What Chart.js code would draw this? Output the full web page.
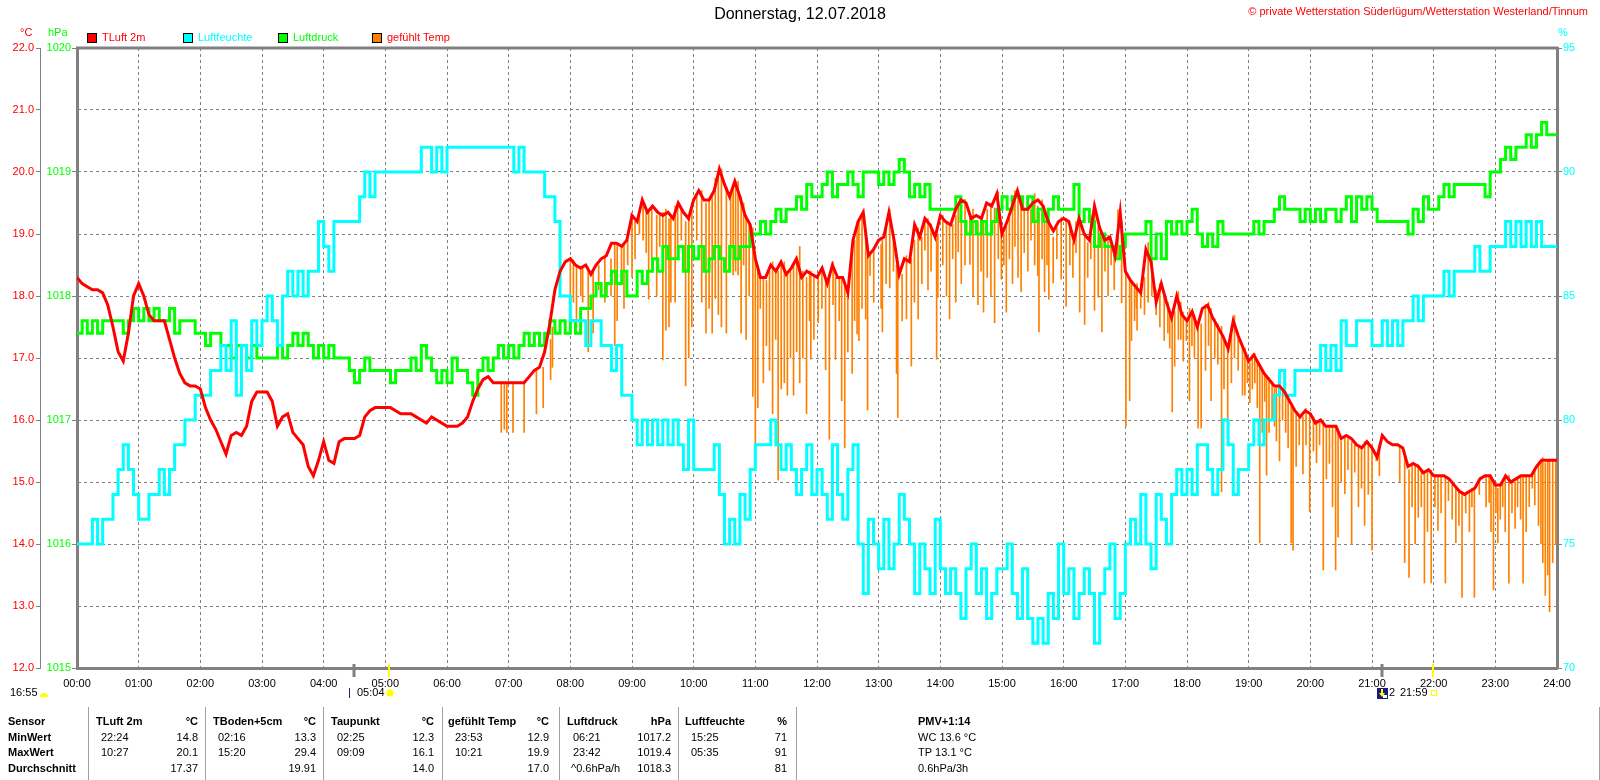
<!DOCTYPE html>
<html>
<head>
<meta charset="utf-8">
<title>Donnerstag, 12.07.2018</title>
<script src="https://cdn.jsdelivr.net/npm/chart.js@4.4.0/dist/chart.umd.min.js"></script>
<style>
  html, body { margin: 0; padding: 0; background: #fff; }
  canvas { display: block; }
</style>
</head>
<body>
<canvas id="chart" width="1600" height="780"></canvas>
<script>
// x axis labels, one per hour
const hourLabels = ["00:00","01:00","02:00","03:00","04:00","05:00","06:00","07:00","08:00","09:00","10:00","11:00","12:00",
  "13:00","14:00","15:00","16:00","17:00","18:00","19:00","20:00","21:00","22:00","23:00","24:00"];

// TLuft, Luftdruck, Luftfeuchte sampled every 5 minutes, one row = one hour, last value = 24:00
const stepMinutes = 5;

// TLuft 2m (°C)
const tLuft = [
  18.3, 18.2, 18.15, 18.1, 18.1, 18.05, 17.85, 17.5, 17.1, 16.95, 17.4, 18.0,
  18.2, 18.0, 17.7, 17.6, 17.6, 17.6, 17.3, 17.0, 16.75, 16.6, 16.55, 16.55,
  16.5, 16.2, 16.0, 15.85, 15.65, 15.45, 15.75, 15.8, 15.75, 15.9, 16.3, 16.45,
  16.45, 16.45, 16.3, 15.9, 16.05, 16.1, 15.8, 15.7, 15.6, 15.25, 15.1, 15.35,
  15.65, 15.35, 15.3, 15.65, 15.7, 15.7, 15.7, 15.75, 16.05, 16.15, 16.2, 16.2,
  16.2, 16.2, 16.15, 16.1, 16.1, 16.1, 16.05, 16.0, 15.95, 16.05, 16.0, 15.95,
  15.9, 15.9, 15.9, 15.95, 16.05, 16.3, 16.5, 16.65, 16.7, 16.6, 16.6, 16.6,
  16.6, 16.6, 16.6, 16.6, 16.7, 16.8, 16.85, 17.1, 17.55, 18.1, 18.4, 18.55,
  18.6, 18.5, 18.45, 18.5, 18.35, 18.5, 18.6, 18.65, 18.85, 18.85, 18.8, 18.9,
  19.3, 19.2, 19.55, 19.35, 19.45, 19.35, 19.3, 19.35, 19.25, 19.5, 19.35, 19.25,
  19.55, 19.7, 19.55, 19.55, 19.7, 20.05, 19.8, 19.6, 19.85, 19.6, 19.3, 19.15,
  18.6, 18.3, 18.3, 18.5, 18.4, 18.55, 18.35, 18.45, 18.6, 18.3, 18.4, 18.35,
  18.3, 18.45, 18.2, 18.5, 18.3, 18.3, 18.05, 18.9, 19.2, 19.35, 18.65, 18.75,
  18.9, 18.95, 19.35, 18.9, 18.35, 18.6, 18.55, 19.15, 18.95, 19.25, 19.15, 18.95,
  19.3, 19.2, 19.15, 19.4, 19.55, 19.5, 19.25, 19.3, 19.25, 19.5, 19.45, 19.65,
  19.0, 19.2, 19.45, 19.7, 19.4, 19.4, 19.5, 19.55, 19.45, 19.2, 19.05, 19.2,
  19.25, 19.2, 18.9, 19.25, 19.0, 18.9, 19.45, 19.1, 18.9, 18.95, 18.65, 19.35,
  18.4, 18.25, 18.15, 18.05, 18.75, 18.55, 17.9, 18.2, 17.9, 17.65, 18.0, 17.7,
  17.6, 17.75, 17.5, 17.8, 17.85, 17.65, 17.5, 17.35, 17.15, 17.6, 17.35, 17.15,
  16.95, 17.05, 16.9, 16.75, 16.65, 16.55, 16.55, 16.45, 16.3, 16.15, 16.05, 16.15,
  16.1, 15.95, 16.0, 15.9, 15.9, 15.9, 15.7, 15.75, 15.7, 15.6, 15.55, 15.65,
  15.55, 15.4, 15.75, 15.65, 15.6, 15.6, 15.55, 15.25, 15.3, 15.25, 15.15, 15.2,
  15.1, 15.1, 15.1, 15.05, 14.95, 14.85, 14.8, 14.85, 14.9, 15.05, 15.1, 15.1,
  14.95, 14.95, 15.1, 15.0, 15.05, 15.1, 15.1, 15.1, 15.25, 15.35, 15.35, 15.35,
  15.35
];

// gefühlt Temp: short drops below the air temperature, as time (h), lowest and highest value (°C)
const gefuehltTime = [
  6.88, 6.93, 6.97, 7.07, 7.25, 7.45, 7.56, 7.68, 7.71,
  8.0, 8.05, 8.1, 8.17, 8.2, 8.29, 8.37, 8.46, 8.56, 8.66, 8.72, 8.76, 8.83, 8.87, 8.93,
  9.0, 9.05, 9.12, 9.18, 9.23, 9.27, 9.32, 9.4, 9.45, 9.5, 9.55, 9.6, 9.63, 9.7, 9.74, 9.8, 9.87, 9.92, 9.97,
  10.05, 10.13, 10.2, 10.25, 10.3, 10.35, 10.4, 10.45, 10.53, 10.6, 10.64, 10.68, 10.72, 10.77, 10.81, 10.85, 10.9, 10.96,
  11.0, 11.04, 11.08, 11.13, 11.18, 11.23, 11.28, 11.33, 11.37, 11.42, 11.47, 11.52, 11.57, 11.62, 11.67, 11.72, 11.77, 11.83, 11.88, 11.9, 11.95,
  12.02, 12.08, 12.14, 12.2, 12.26, 12.3, 12.36, 12.4, 12.45, 12.5, 12.57, 12.61, 12.65, 12.68, 12.73, 12.79, 12.82, 12.86, 12.92,
  13.04, 13.06, 13.12, 13.18, 13.24, 13.29, 13.31, 13.38, 13.45, 13.53, 13.58, 13.64, 13.7, 13.75, 13.8, 13.85, 13.94, 13.96,
  14.04, 14.1, 14.15, 14.2, 14.25, 14.29, 14.34, 14.4, 14.48, 14.53, 14.61, 14.66, 14.7, 14.76, 14.82, 14.88, 14.94, 14.99,
  15.03, 15.07, 15.12, 15.17, 15.21, 15.26, 15.31, 15.36, 15.42, 15.47, 15.53, 15.58, 15.6, 15.65, 15.69, 15.73, 15.76, 15.83, 15.89, 15.96,
  16.04, 16.1, 16.15, 16.2, 16.26, 16.34, 16.39, 16.44, 16.5, 16.56, 16.62, 16.67, 16.72, 16.77, 16.82, 16.88, 16.94,
  17.01, 17.07, 17.1, 17.15, 17.18, 17.19, 17.25, 17.31, 17.37, 17.43, 17.5, 17.56, 17.63, 17.69, 17.72, 17.76, 17.8, 17.86, 17.9, 17.94, 17.99,
  18.04, 18.08, 18.12, 18.18, 18.23, 18.3, 18.35, 18.39, 18.45, 18.5, 18.56, 18.6, 18.66, 18.72, 18.77, 18.83, 18.9, 18.94, 18.98,
  19.02, 19.06, 19.1, 19.14, 19.18, 19.22, 19.26, 19.29, 19.33, 19.38, 19.42, 19.45, 19.5, 19.55, 19.6, 19.64, 19.69, 19.72, 19.77, 19.82, 19.88, 19.93, 19.99,
  20.05, 20.1, 20.15, 20.21, 20.26, 20.31, 20.36, 20.41, 20.45, 20.5, 20.56, 20.61, 20.67, 20.72, 20.78, 20.83, 20.88, 20.94,
  21.0, 21.07, 21.12, 21.45, 21.53, 21.6, 21.65, 21.7, 21.75, 21.8, 21.85, 21.9, 21.96,
  22.02, 22.07, 22.12, 22.19, 22.24, 22.3, 22.36, 22.41, 22.46, 22.52, 22.58, 22.62, 22.66, 22.74, 22.85, 22.9, 22.93, 22.97,
  23.01, 23.04, 23.08, 23.12, 23.16, 23.22, 23.27, 23.32, 23.36, 23.41, 23.45, 23.5, 23.55, 23.6, 23.64, 23.7, 23.74, 23.77, 23.81, 23.85, 23.88, 23.93, 23.98
];
const gefuehltMin = [
  15.8, 15.85, 15.8, 15.8, 15.8, 16.1, 16.2, 16.65, 16.85,
  17.4, 17.9, 17.5, 18.0, 17.9, 17.1, 17.4, 18.1, 17.9, 18.0, 17.2, 17.6, 18.3, 17.8, 18.5,
  18.3, 18.6, 19.0, 18.9, 18.7, 17.95, 18.6, 18.0, 18.8, 16.97, 17.45, 17.5, 17.9, 17.9, 18.6, 18.9, 16.55, 17.0, 17.5,
  18.9, 17.9, 17.4, 17.8, 17.4, 17.96, 17.7, 17.5, 17.4, 18.6, 18.34, 18.4, 18.34, 17.4, 18.5, 17.3, 18.0, 16.38,
  15.3, 16.2, 17.8, 16.6, 17.2, 16.8, 16.1, 17.3, 15.03, 16.5, 16.6, 16.4, 17.0, 16.4, 17.1, 16.6, 17.0, 16.1, 17.6, 16.98, 17.3,
  17.57, 17.8, 16.81, 15.69, 17.86, 16.98, 17.6, 16.31, 15.55, 17.1, 16.75, 17.6, 17.39, 17.28, 17.8, 17.63, 16.16, 18.33, 17.9,
  17.8, 17.42, 18.2, 18.13, 18.4, 16.75, 16.04, 17.6, 17.63, 16.87, 17.9, 17.63, 18.2, 18.74, 18.1, 18.4, 16.98, 17.98,
  18.5, 18.0, 17.63, 18.6, 17.9, 18.71, 18.2, 18.5, 18.51, 18.0, 17.86, 18.4, 17.74, 18.3, 18.0, 17.57, 18.6, 18.27,
  18.5, 17.74, 18.6, 18.2, 18.8, 18.3, 18.07, 18.7, 18.4, 18.9, 18.5, 18.33, 17.42, 18.6, 18.07, 18.5, 17.95, 18.21, 18.6, 18.27,
  17.83, 18.5, 18.3, 18.7, 17.74, 17.54, 18.3, 18.6, 17.77, 17.98, 17.42, 18.4, 18.0, 18.5, 18.1, 18.6, 17.89,
  15.9, 16.31, 17.28, 17.6, 17.8, 17.45, 17.8, 17.7, 17.9, 18.0, 17.7, 17.5, 17.28, 17.4, 17.16, 16.13, 16.87, 17.3, 17.3, 16.95, 17.28,
  16.31, 17.2, 17.01, 15.87, 15.87, 16.8, 17.2, 16.31, 17.0, 16.9, 14.84, 16.5, 16.01, 16.6, 17.0, 16.8, 16.4, 16.4, 16.6,
  16.28, 16.5, 16.6, 16.2, 14.02, 15.8, 16.3, 15.11, 15.8, 16.0, 15.9, 15.66, 15.34, 16.0, 15.8, 15.55, 14.02, 13.9, 15.25, 15.6, 15.13, 15.6, 14.52,
  15.5, 15.31, 15.6, 13.58, 15.05, 15.3, 14.6, 13.58, 14.11, 15.0, 14.81, 15.2, 13.99, 15.16, 14.6, 14.9, 14.3, 14.8,
  13.9, 15.34, 15.1, 15.0, 13.7, 13.46, 14.6, 14.0, 14.43, 14.6, 13.37, 14.2, 13.37,
  14.6, 14.22, 14.5, 13.37, 14.7, 14.4, 14.02, 14.3, 13.14, 14.5, 14.2, 14.6, 13.14, 14.8, 14.6, 14.67, 14.2, 13.26,
  14.5, 14.02, 14.4, 14.6, 14.2, 13.37, 14.5, 14.25, 14.6, 14.4, 13.37, 14.2, 14.6, 14.9, 14.63, 14.3, 14.0, 13.7, 13.17, 13.5, 12.91, 13.7, 13.99
];
const gefuehltMax = [
  16.6, 16.6, 16.6, 16.6, 16.6, 16.8, 16.85, 17.3, 17.5,
  18.58, 18.58, 18.5, 18.45, 18.45, 18.45, 18.4, 18.5, 18.63, 18.6, 18.85, 18.85, 18.82, 18.85, 18.9,
  19.3, 19.2, 19.3, 19.5, 19.35, 19.4, 19.45, 19.3, 19.3, 19.35, 19.4, 19.25, 19.3, 19.45, 19.5, 19.4, 19.2, 19.3, 19.5,
  19.6, 19.7, 19.5, 19.55, 19.6, 19.9, 20.0, 20.05, 19.76, 19.65, 19.75, 19.85, 19.85, 19.6, 19.5, 19.3, 19.2, 19.1,
  18.6, 18.4, 18.3, 18.3, 18.25, 18.4, 18.55, 18.45, 18.4, 18.5, 18.55, 18.35, 18.4, 18.5, 18.6, 18.8, 18.4, 18.3, 18.4, 18.4, 18.35,
  18.3, 18.45, 18.3, 18.3, 18.55, 18.3, 18.3, 18.3, 18.2, 18.05, 18.7, 18.9, 19.1, 19.2, 19.3, 19.0, 18.62, 18.7, 18.75,
  18.83, 18.9, 19.1, 19.39, 18.95, 18.5, 18.45, 18.35, 18.65, 18.6, 18.9, 19.1, 18.95, 19.2, 19.25, 19.15, 18.92, 19.0,
  19.3, 19.2, 19.15, 19.15, 19.3, 19.45, 19.56, 19.56, 19.3, 19.4, 19.21, 19.2, 19.21, 19.4, 19.5, 19.42, 19.68, 19.1,
  19.0, 19.15, 19.25, 19.45, 19.7, 19.6, 19.45, 19.4, 19.4, 19.4, 19.65, 19.45, 19.35, 19.55, 19.35, 19.25, 19.15, 18.95, 19.1, 19.27,
  19.25, 19.1, 18.86, 19.2, 19.2, 19.0, 18.86, 19.3, 19.5, 19.12, 18.95, 18.9, 18.98, 18.8, 18.7, 19.39, 19.21,
  18.4, 18.3, 18.25, 18.13, 18.15, 18.2, 18.2, 18.3, 18.86, 18.6, 18.1, 18.2, 18.0, 17.9, 17.75, 17.65, 17.75, 18.07, 17.9, 17.74, 17.57,
  17.8, 17.75, 17.69, 17.5, 17.55, 17.86, 17.9, 17.8, 17.63, 17.55, 17.51, 17.3, 17.19, 17.5, 17.69, 17.4, 17.2, 17.16, 17.0,
  16.92, 17.05, 17.07, 16.95, 16.87, 16.8, 16.75, 16.72, 16.69, 16.6, 16.51, 16.55, 16.57, 16.5, 16.45, 16.35, 16.22, 16.2, 16.1, 16.05, 16.05, 16.19, 16.1,
  16.05, 15.93, 16.0, 16.0, 15.87, 15.9, 15.9, 15.9, 15.85, 15.66, 15.75, 15.7, 15.65, 15.6, 15.55, 15.55, 15.65, 15.65,
  15.6, 15.45, 15.6, 15.57, 15.4, 15.2, 15.28, 15.3, 15.28, 15.2, 15.13, 15.18, 15.19,
  15.11, 15.11, 15.11, 15.1, 15.05, 14.95, 14.9, 14.87, 14.85, 14.81, 14.85, 14.9, 14.9, 15.0, 15.11, 15.11, 15.1, 15.02,
  14.95, 14.9, 14.95, 15.0, 15.05, 15.11, 15.0, 15.0, 15.05, 15.08, 15.1, 15.1, 15.1, 15.15, 15.2, 15.3, 15.35, 15.39, 15.31, 15.35, 15.37, 15.35, 15.34
];

// Luftdruck (hPa)
const luftdruck = [
  1017.7, 1017.8, 1017.7, 1017.8, 1017.7, 1017.8, 1017.8, 1017.8, 1017.8, 1017.7, 1017.8, 1017.9,
  1017.8, 1017.9, 1017.8, 1017.9, 1017.8, 1017.8, 1017.9, 1017.7, 1017.8, 1017.8, 1017.8, 1017.7,
  1017.7, 1017.6, 1017.7, 1017.7, 1017.6, 1017.6, 1017.5, 1017.6, 1017.6, 1017.5, 1017.6, 1017.5,
  1017.5, 1017.5, 1017.5, 1017.6, 1017.5, 1017.6, 1017.7, 1017.6, 1017.7, 1017.6, 1017.5, 1017.6,
  1017.5, 1017.6, 1017.5, 1017.5, 1017.5, 1017.4, 1017.3, 1017.4, 1017.5, 1017.4, 1017.4, 1017.4,
  1017.4, 1017.3, 1017.4, 1017.4, 1017.4, 1017.5, 1017.4, 1017.6, 1017.5, 1017.4, 1017.3, 1017.4,
  1017.3, 1017.5, 1017.4, 1017.4, 1017.3, 1017.2, 1017.4, 1017.5, 1017.4, 1017.5, 1017.6, 1017.5,
  1017.6, 1017.5, 1017.6, 1017.7, 1017.6, 1017.7, 1017.6, 1017.7, 1017.8, 1017.7, 1017.8, 1017.7,
  1017.8, 1017.7, 1017.9, 1017.9, 1018.0, 1018.1, 1018.0, 1018.1, 1018.2, 1018.1, 1018.2, 1018.0,
  1018.0, 1018.2, 1018.1, 1018.2, 1018.3, 1018.2, 1018.4, 1018.3, 1018.3, 1018.4, 1018.2, 1018.4,
  1018.3, 1018.4, 1018.2, 1018.3, 1018.4, 1018.3, 1018.2, 1018.4, 1018.3, 1018.4, 1018.4, 1018.5,
  1018.5, 1018.6, 1018.5, 1018.6, 1018.7, 1018.6, 1018.7, 1018.7, 1018.8, 1018.7, 1018.9, 1018.8,
  1018.8, 1018.9, 1019.0, 1018.8, 1018.9, 1018.9, 1019.0, 1018.9, 1018.8, 1019.0, 1019.0, 1019.0,
  1018.9, 1019.0, 1018.9, 1019.0, 1019.1, 1019.0, 1018.8, 1018.9, 1018.8, 1018.9, 1018.7, 1018.7,
  1018.7, 1018.7, 1018.7, 1018.8, 1018.6, 1018.5, 1018.6, 1018.5, 1018.6, 1018.5, 1018.6, 1018.7,
  1018.8, 1018.7, 1018.8, 1018.8, 1018.7, 1018.8, 1018.6, 1018.7, 1018.6, 1018.7, 1018.8, 1018.7,
  1018.7, 1018.7, 1018.9, 1018.6, 1018.7, 1018.6, 1018.4, 1018.5, 1018.4, 1018.4, 1018.3, 1018.4,
  1018.5, 1018.5, 1018.5, 1018.5, 1018.6, 1018.3, 1018.5, 1018.3, 1018.6, 1018.5, 1018.6, 1018.5,
  1018.6, 1018.7, 1018.5, 1018.4, 1018.5, 1018.4, 1018.6, 1018.5, 1018.5, 1018.5, 1018.5, 1018.5,
  1018.5, 1018.6, 1018.5, 1018.6, 1018.6, 1018.7, 1018.8, 1018.7, 1018.7, 1018.7, 1018.6, 1018.7,
  1018.6, 1018.7, 1018.6, 1018.7, 1018.7, 1018.6, 1018.7, 1018.8, 1018.6, 1018.8, 1018.7, 1018.8,
  1018.7, 1018.6, 1018.6, 1018.6, 1018.6, 1018.6, 1018.6, 1018.5, 1018.7, 1018.6, 1018.8, 1018.7,
  1018.7, 1018.8, 1018.9, 1018.8, 1018.9, 1018.9, 1018.9, 1018.9, 1018.9, 1018.9, 1018.8, 1019.0,
  1019.0, 1019.1, 1019.2, 1019.1, 1019.2, 1019.2, 1019.3, 1019.2, 1019.3, 1019.4, 1019.3, 1019.3,
  1019.3
];

// Luftfeuchte (%)
const luftfeuchte = [
  75, 75, 75, 76, 75, 76, 76, 77, 78, 79, 78, 77,
  76, 76, 77, 77, 78, 77, 78, 79, 79, 80, 80, 81,
  81, 81, 82, 82, 83, 82, 84, 81, 83, 82, 84, 83,
  84, 85, 84, 83, 85, 86, 85, 86, 85, 86, 86, 88,
  87, 86, 88, 88, 88, 88, 88, 89, 90, 89, 90, 90,
  90, 90, 90, 90, 90, 90, 90, 91, 91, 90, 91, 90,
  91, 91, 91, 91, 91, 91, 91, 91, 91, 91, 91, 91,
  91, 90, 91, 90, 90, 90, 90, 89, 89, 88, 85, 85,
  84, 84, 84, 83, 84, 84, 83, 83, 82, 83, 81, 81,
  80, 79, 80, 79, 80, 79, 80, 79, 80, 79, 78, 80,
  78, 78, 78, 78, 79, 77, 75, 76, 75, 77, 76, 78,
  79, 79, 79, 80, 79, 78, 79, 78, 77, 78, 79, 77,
  78, 77, 76, 79, 77, 76, 78, 79, 75, 73, 76, 75,
  74, 76, 74, 75, 77, 76, 75, 73, 75, 74, 73, 76,
  74, 73, 74, 73, 72, 74, 75, 73, 74, 72, 73, 74,
  74, 75, 73, 72, 74, 72, 71, 72, 71, 73, 72, 75,
  73, 74, 72, 73, 74, 73, 71, 73, 74, 75, 72, 73,
  75, 76, 75, 77, 75, 74, 77, 76, 75, 77, 78, 77,
  78, 77, 79, 79, 78, 77, 78, 80, 79, 77, 78, 78,
  79, 80, 79, 80, 80, 81, 82, 81, 81, 82, 82, 82,
  82, 82, 83, 82, 83, 82, 84, 83, 83, 84, 84, 84,
  83, 83, 84, 83, 84, 83, 84, 84, 85, 84, 85, 85,
  85, 85, 86, 85, 86, 86, 86, 86, 87, 86, 86, 87,
  87, 87, 88, 87, 88, 87, 88, 87, 88, 87, 87, 87,
  87
];

// dawn / sunrise / dusk / sunset marks on the time axis (hours)
const dayMarks = [
  { t: 4.49, color: "#808080", width: 3 },
  { t: 5.067, color: "#ffff00", width: 2 },
  { t: 21.16, color: "#808080", width: 3 },
  { t: 21.983, color: "#ffff00", width: 2 }
];

// statistics table below the chart
const tableRowLabels = ["Sensor", "MinWert", "MaxWert", "Durchschnitt"];
const tableCols = [
  { name: "TLuft 2m",     unit: "°C",  x: 96,  right: 198, tx: 101, min: ["22:24", "14.8"],   max: ["10:27", "20.1"],   avg: ["", "17.37"] },
  { name: "TBoden+5cm",   unit: "°C",  x: 213, right: 316, tx: 218, min: ["02:16", "13.3"],   max: ["15:20", "29.4"],   avg: ["", "19.91"] },
  { name: "Taupunkt",     unit: "°C",  x: 331, right: 434, tx: 337, min: ["02:25", "12.3"],   max: ["09:09", "16.1"],   avg: ["", "14.0"] },
  { name: "gefühlt Temp", unit: "°C",  x: 448, right: 549, tx: 455, min: ["23:53", "12.9"],   max: ["10:21", "19.9"],   avg: ["", "17.0"] },
  { name: "Luftdruck",    unit: "hPa", x: 567, right: 671, tx: 573, min: ["06:21", "1017.2"], max: ["23:42", "1019.4"], avg: ["^0.6hPa/h", "1018.3"] },
  { name: "Luftfeuchte",  unit: "%",   x: 685, right: 787, tx: 691, min: ["15:25", "71"],     max: ["05:35", "91"],     avg: ["", "81"] }
];
const tableSeparators = [88, 205, 323, 442, 559, 678, 796, 1599];
const pmvLines = ["PMV+1:14", "WC 13.6 °C", "TP 13.1 °C", "0.6hPa/3h"];

const legendItems = [
  { text: "TLuft 2m",     box: "#ff0000", color: "#ff0000", x: 87 },
  { text: "Luftfeuchte",  box: "#00ffff", color: "#00ffff", x: 183 },
  { text: "Luftdruck",    box: "#00ff00", color: "#00ff00", x: 278 },
  { text: "gefühlt Temp", box: "#ff8000", color: "#ff0000", x: 372 }
];

const GREY = "#808080";
const FONT = '"Liberation Sans", Arial, sans-serif';

function points(values) {
  return values.map((v, i) => ({ x: i * stepMinutes / 60, y: v }));
}

function text(ctx, s, x, y, color, align, bold, size) {
  ctx.font = (bold ? "bold " : "") + (size || 11) + "px " + FONT;
  ctx.fillStyle = color;
  ctx.textAlign = align || "left";
  ctx.textBaseline = "middle";
  ctx.fillText(s, x, y);
}

const decorations = {
  id: "decorations",
  afterDraw(chart) {
    const { ctx, chartArea: area, scales } = chart;
    ctx.save();

    // top edge of the frame
    ctx.strokeStyle = GREY;
    ctx.lineWidth = 3;
    ctx.beginPath();
    ctx.moveTo(area.left - 1, area.top);
    ctx.lineTo(area.right + 1, area.top);
    ctx.stroke();

    // header
    text(ctx, "Donnerstag, 12.07.2018", 800, 15, "#000", "center", false, 16);
    text(ctx, "© private Wetterstation Süderlügum/Wetterstation Westerland/Tinnum", 1588, 12, "#ff0000", "right");
    text(ctx, "°C", 20, 33, "#ff0000");
    text(ctx, "hPa", 48, 33, "#00ff00");
    text(ctx, "%", 1558, 33, "#00ffff");

    legendItems.forEach(item => {
      ctx.fillStyle = item.box;
      ctx.fillRect(item.x, 33, 10, 10);
      ctx.strokeStyle = "#000";
      ctx.lineWidth = 1;
      ctx.strokeRect(item.x + 0.5, 33.5, 9, 9);
      text(ctx, item.text, item.x + 15, 38, item.color);
    });

    // marks on the time axis
    dayMarks.forEach(m => {
      const x = Math.round(scales.x.getPixelForValue(m.t));
      ctx.strokeStyle = m.color;
      ctx.lineWidth = m.width;
      ctx.beginPath();
      ctx.moveTo(x, 664);
      ctx.lineTo(x, 677);
      ctx.stroke();
    });

    // moon / sun row
    text(ctx, "16:55", 10, 693, "#000");
    ctx.fillStyle = "#ffff00";
    ctx.beginPath();
    ctx.arc(44, 697, 4, Math.PI, 2 * Math.PI);
    ctx.fill();

    ctx.strokeStyle = "#202080";
    ctx.lineWidth = 1;
    ctx.beginPath();
    ctx.moveTo(349.5, 688);
    ctx.lineTo(349.5, 698);
    ctx.stroke();
    text(ctx, "05:04", 357, 693, "#000");
    ctx.strokeStyle = "#ffff99";
    for (let k = 0; k < 8; k++) {
      const a = k * Math.PI / 4;
      ctx.beginPath();
      ctx.moveTo(390 + Math.cos(a) * 4, 693 + Math.sin(a) * 4);
      ctx.lineTo(390 + Math.cos(a) * 6.5, 693 + Math.sin(a) * 6.5);
      ctx.stroke();
    }
    ctx.fillStyle = "#ffff00";
    ctx.beginPath();
    ctx.arc(390, 693, 3.5, 0, 2 * Math.PI);
    ctx.fill();

    ctx.fillStyle = "#1a1a80";
    ctx.fillRect(1377, 688, 11, 11);
    ctx.fillStyle = "#ffffff";
    ctx.fillRect(1383, 695, 4, 3);
    ctx.fillStyle = "#ffff00";
    ctx.beginPath();
    ctx.moveTo(1379, 693);
    ctx.lineTo(1385, 693);
    ctx.lineTo(1382, 697);
    ctx.closePath();
    ctx.fill();
    ctx.fillRect(1381, 689, 2, 4);
    text(ctx, "2", 1389, 693, "#000");
    text(ctx, "21:59", 1400, 693, "#000");
    ctx.strokeStyle = "#ffff00";
    ctx.strokeRect(1431.5, 690.5, 5, 5);

    // statistics table
    ctx.strokeStyle = "#a0a0a0";
    ctx.lineWidth = 1;
    tableSeparators.forEach(x => {
      ctx.beginPath();
      ctx.moveTo(x + 0.5, 707);
      ctx.lineTo(x + 0.5, 780);
      ctx.stroke();
    });
    const rowY = [722, 738, 753, 769];
    tableRowLabels.forEach((s, i) => text(ctx, s, 8, rowY[i], "#000", "left", true));
    tableCols.forEach(c => {
      text(ctx, c.name, c.x, rowY[0], "#000", "left", true);
      text(ctx, c.unit, c.right, rowY[0], "#000", "right", true);
      [c.min, c.max, c.avg].forEach((row, r) => {
        const y = rowY[r + 1];
        if (row[0]) text(ctx, row[0], row[0].startsWith("^") ? c.tx - 2 : c.tx, y, "#000");
        text(ctx, row[1], c.right, y, "#000", "right");
      });
    });
    pmvLines.forEach((s, i) => text(ctx, s, 918, rowY[i], "#000", "left", i === 0));

    ctx.restore();
  }
};

Chart.defaults.font.family = FONT;
Chart.defaults.font.size = 11;

new Chart(document.getElementById("chart").getContext("2d"), {
  type: "line",
  data: {
    datasets: [
      { label: "TLuft 2m", data: points(tLuft), borderColor: "#ff0000", borderWidth: 3, yAxisID: "yT" },
      { label: "Luftfeuchte", data: points(luftfeuchte), borderColor: "#00ffff", borderWidth: 3, stepped: true, yAxisID: "yH" },
      { label: "Luftdruck", data: points(luftdruck), borderColor: "#00ff00", borderWidth: 3, stepped: true, yAxisID: "yP" },
      {
        type: "bar", label: "gefühlt Temp", yAxisID: "yT",
        data: gefuehltTime.map((t, i) => ({ x: t, y: [gefuehltMin[i], gefuehltMax[i]] })),
        backgroundColor: "#ff8000", borderWidth: 0, barThickness: 1, grouped: false
      }
    ]
  },
  options: {
    responsive: false,
    animation: false,
    devicePixelRatio: 1,
    layout: { padding: { top: 48, left: 0, right: 0, bottom: 0 } },
    elements: { point: { radius: 0 }, line: { tension: 0 } },
    plugins: { legend: { display: false }, title: { display: false }, tooltip: { enabled: false } },
    scales: {
      x: {
        type: "linear", min: 0, max: 24, offset: false,
        afterFit: s => { s.height = 112; },
        ticks: { stepSize: 1, autoSkip: false, maxRotation: 0, padding: 9, color: "#000", callback: v => hourLabels[v] },
        grid: { color: GREY, lineWidth: 1, drawTicks: false, offset: false },
        border: { color: GREY, width: 3, dash: [3, 3] }
      },
      yT: {
        position: "left", weight: 2, min: 12, max: 22, beginAtZero: false,
        afterFit: s => { s.width = 40; },
        ticks: { stepSize: 1, color: "#ff0000", padding: 2, callback: v => v.toFixed(1) },
        grid: { color: GREY, lineWidth: 1, tickColor: GREY, tickLength: 4 },
        border: { color: GREY, width: 1, dash: [3, 3] }
      },
      yP: {
        position: "left", weight: 1, min: 1015, max: 1020,
        afterFit: s => { s.width = 37; },
        ticks: { stepSize: 1, color: "#00ff00", padding: 1, callback: v => String(v) },
        grid: { drawOnChartArea: false, color: GREY, tickColor: GREY, tickLength: 5 },
        border: { color: GREY, width: 3 }
      },
      yH: {
        position: "right", min: 70, max: 95,
        afterFit: s => { s.width = 43; },
        ticks: { stepSize: 5, color: "#00ffff", padding: 1, callback: v => String(v) },
        grid: { drawOnChartArea: false, color: GREY, tickColor: GREY, tickLength: 5 },
        border: { color: GREY, width: 3 }
      }
    }
  },
  plugins: [decorations]
});
</script>
</body>
</html>
